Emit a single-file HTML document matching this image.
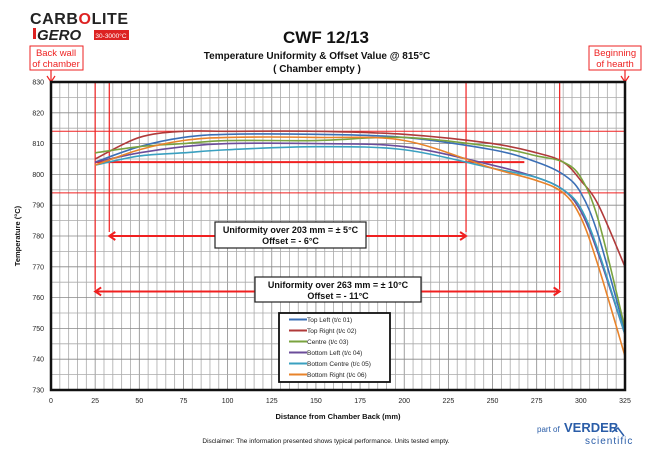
<!DOCTYPE html>
<html><head><meta charset="utf-8"><style>
body{margin:0;background:#fff;font-family:"Liberation Sans",sans-serif}
svg text{font-family:"Liberation Sans",sans-serif}
</style></head><body>
<svg id="c" width="652" height="463" viewBox="0 0 652 463" xmlns="http://www.w3.org/2000/svg">
<g>
<text x="30" y="24" font-size="16" font-weight="bold" fill="#222" textLength="98">CARB<tspan fill="#d22">O</tspan>LITE</text>
<rect x="33" y="28" width="3" height="11" fill="#d22"/>
<text x="37" y="40" font-size="15" font-weight="bold" font-style="italic" fill="#222">GERO</text>
<rect x="94" y="30" width="35" height="10" fill="#d22"/>
<text x="111" y="38" font-size="6.5" fill="#fff" text-anchor="middle">30-3000°C</text>
</g>
<text x="326" y="43" font-size="17" font-weight="bold" text-anchor="middle" fill="#111">CWF 12/13</text>
<text x="317" y="59" font-size="10" font-weight="bold" text-anchor="middle" fill="#111">Temperature Uniformity &amp; Offset Value @ 815°C</text>
<text x="317" y="72" font-size="10" font-weight="bold" text-anchor="middle" fill="#111">( Chamber empty )</text>
<g>
<rect x="30" y="46" width="53" height="24" fill="#fff" stroke="#e22" stroke-width="1"/>
<text x="56" y="56" font-size="9.5" fill="#e22" text-anchor="middle">Back wall</text>
<text x="56" y="67" font-size="9.5" fill="#e22" text-anchor="middle">of chamber</text>
<line x1="51" y1="70" x2="51" y2="81" stroke="#e22" stroke-width="1.2"/><path d="M47,76 L51,82 L55,76" fill="none" stroke="#e22" stroke-width="1.2"/>
</g>
<g>
<rect x="589" y="46" width="52" height="24" fill="#fff" stroke="#e22" stroke-width="1"/>
<text x="615" y="56" font-size="9.5" fill="#e22" text-anchor="middle">Beginning</text>
<text x="615" y="67" font-size="9.5" fill="#e22" text-anchor="middle">of hearth</text>
<line x1="625" y1="70" x2="625" y2="81" stroke="#e22" stroke-width="1.2"/><path d="M621,76 L625,82 L629,76" fill="none" stroke="#e22" stroke-width="1.2"/>
</g>
<g id="grid"></g><g id="ref"></g><g id="series"></g><g id="axes"></g>
<text x="338" y="419" font-size="7.5" font-weight="bold" text-anchor="middle" fill="#111">Distance from Chamber Back (mm)</text>
<text transform="translate(20,236) rotate(-90)" font-size="7.5" font-weight="bold" text-anchor="middle" fill="#111">Temperature (°C)</text>
<text x="326" y="443" font-size="6.5" text-anchor="middle" fill="#111">Disclaimer: The information presented shows typical performance.  Units tested empty.</text>
<g>
<text x="537" y="432" font-size="8" fill="#2a5da8">part of</text>
<text x="564" y="432" font-size="13" font-weight="bold" fill="#2a5da8">VERDER</text>
<text x="585" y="444" font-size="10" fill="#2a5da8" letter-spacing="1">scientific</text>
<path d="M612,432 L618,428 L624,436" fill="none" stroke="#2a5da8" stroke-width="1.5"/>
</g>
</svg>
<script>
const xTicks=[0,25,50,75,100,125,150,175,200,225,250,275,300,325];
const yTicks=[730,740,750,760,770,780,790,800,810,820,830];
const xPos=[25,50,75,100,150,200,250,275,290,300,310,325];
const seriesNames=["Top Left (t/c 01)","Top Right (t/c 02)","Centre (t/c 03)","Bottom Left (t/c 04)","Bottom Centre (t/c 05)","Bottom Right (t/c 06)"];
const topLeft=[804,809,812,813,813,812,808,804,800,794,780,749];
const topRight=[805,812,814,814,814,813,810,807,804,798,790,770];
const centre=[807,809,810,811,811,812,809,806,804,799,785,750];
const bottomLeft=[804,807,809,810,810,809,803,799,795,788,774,748];
const bottomCentre=[803,806,807,808,809,808,802,799,795,789,775,748];
const bottomRight=[803,808,811,812,812,811,802,798,794,786,770,741];
const colors=["#3b6fb6","#b03a3a","#7aa33f","#6b4c9a","#3aa0c0","#e8832a"];
const X0=51,X1=625,Y0=82,Y1=390;
const sx=v=>X0+(v-0)/325*(X1-X0);
const sy=v=>Y1-(v-730)/100*(Y1-Y0);
const NS="http://www.w3.org/2000/svg";
function mk(tag,attrs,parent){const e=document.createElementNS(NS,tag);for(const k in attrs)e.setAttribute(k,attrs[k]);parent.appendChild(e);return e;}
const grid=document.getElementById('grid'),ref=document.getElementById('ref'),ser=document.getElementById('series'),axes=document.getElementById('axes');
for(let v=0;v<=325;v+=5){const l=mk('line',{x1:sx(v),x2:sx(v),y1:Y0,y2:Y1,stroke:v%25==0?'#888':'#aaa','stroke-width':0.8},grid);

}
for(let v=730;v<=830;v+=5){const l=mk('line',{x1:X0,x2:X1,y1:sy(v),y2:sy(v),stroke:v%10==0?'#888':'#aaa','stroke-width':0.8},grid);

}
const R='#f02020';
[[0,325,814,814,1],[0,325,794,794,1],[25,268,804,804,2]].forEach(a=>{const l=mk('line',{x1:sx(a[0]),x2:sx(a[1]),y1:sy(a[2]),y2:sy(a[3]),stroke:R,'stroke-width':a[4]},ref);

});
[[25,761.3],[33,780],[235,780],[288,761.3]].forEach(a=>{const l=mk('line',{x1:sx(a[0]),x2:sx(a[0]),y1:Y0,y2:sy(a[1])-4,stroke:R,'stroke-width':1.2},ref);

});
function arrow(a,b,y){const l=mk('line',{x1:sx(a),x2:sx(b),y1:sy(y),y2:sy(y),stroke:R,'stroke-width':2},ref);


mk('path',{d:`M${sx(a)+6},${sy(y)-4} L${sx(a)},${sy(y)} L${sx(a)+6},${sy(y)+4}`,fill:'none',stroke:R,'stroke-width':2},ref);
mk('path',{d:`M${sx(b)-6},${sy(y)-4} L${sx(b)},${sy(y)} L${sx(b)-6},${sy(y)+4}`,fill:'none',stroke:R,'stroke-width':2},ref);}
arrow(33,235,780);arrow(25,288,762);
function box(x,y,w,h,t1,t2,name){const g=mk('g',{},ref);


mk('rect',{x,y,width:w,height:h,fill:'#fff',stroke:'#222','stroke-width':1.2},g);
mk('text',{x:x+w/2,y:y+11,'font-size':9,'font-weight':'bold','text-anchor':'middle',fill:'#111'},g).textContent=t1;
mk('text',{x:x+w/2,y:y+22,'font-size':9,'font-weight':'bold','text-anchor':'middle',fill:'#111'},g).textContent=t2;}
box(215,222,151,26,"Uniformity over 203 mm = ± 5°C","Offset = - 6°C","uniformity-203-box");
box(255,277,166,25,"Uniformity over 263 mm = ± 10°C","Offset = - 11°C","uniformity-263-box");
const allSeries=[topLeft,topRight,centre,bottomLeft,bottomCentre,bottomRight];
function path(pts){let d=`M${pts[0][0]},${pts[0][1]}`;for(let i=0;i<pts.length-1;i++){const p0=pts[i-1]||pts[i],p1=pts[i],p2=pts[i+1],p3=pts[i+2]||p2;
d+=` C${p1[0]+(p2[0]-p0[0])/6},${p1[1]+(p2[1]-p0[1])/6} ${p2[0]-(p3[0]-p1[0])/6},${p2[1]-(p3[1]-p1[1])/6} ${p2[0]},${p2[1]}`;}return d;}
allSeries.forEach((s,i)=>{const pts=s.map((v,j)=>[sx(xPos[j]),sy(v)]);
const p=mk('path',{d:path(pts),fill:'none',stroke:colors[i],'stroke-width':1.6},ser);

});
const fr=mk('rect',{x:X0,y:Y0,width:X1-X0,height:Y1-Y0,fill:'none',stroke:'#111','stroke-width':2.5},axes);


xTicks.forEach(v=>{const t=mk('text',{x:sx(v),y:Y1+13,'font-size':7,'text-anchor':'middle',fill:'#222'},axes);t.textContent=v;

});
yTicks.forEach(v=>{const t=mk('text',{x:X0-7,y:sy(v)+2.5,'font-size':7,'text-anchor':'end',fill:'#222'},axes);t.textContent=v;

});
const lg=mk('g',{},axes);


mk('rect',{x:279,y:313,width:111,height:69,fill:'#fff',stroke:'#111','stroke-width':1.8},lg);
seriesNames.forEach((n,i)=>{const y=322+i*11;
const e=mk('g',{},lg);


mk('line',{x1:289,x2:307,y1:y-2.5,y2:y-2.5,stroke:colors[i],'stroke-width':2},e);
mk('text',{x:307,y:y,'font-size':6.5,fill:'#222'},e).textContent=n;});
</script>
</body></html>
